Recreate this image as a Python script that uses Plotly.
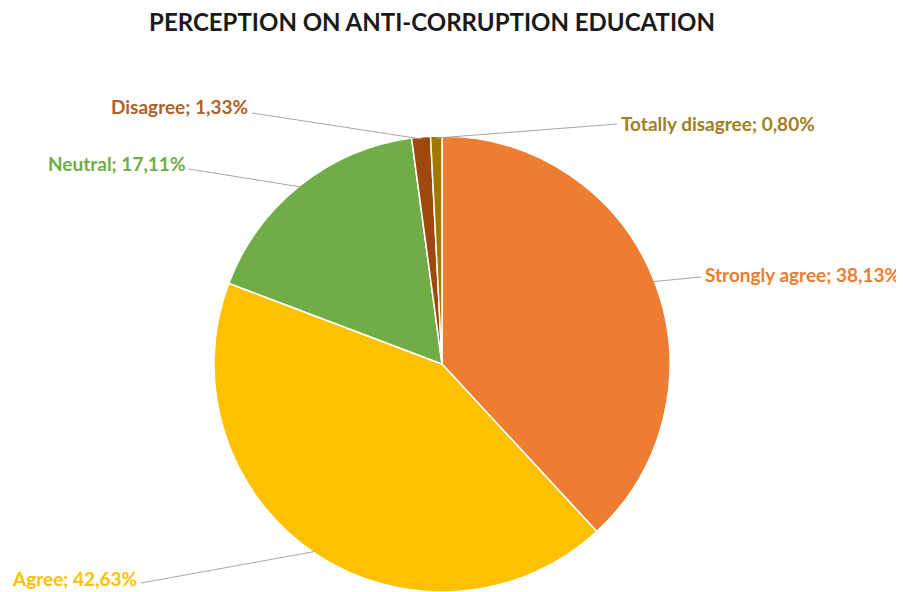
import math
import plotly.graph_objects as go

labels = ["Strongly agree", "Agree", "Neutral", "Disagree", "Totally disagree"]
values = [38.13, 42.63, 17.11, 1.33, 0.80]
colors = ["#ED7D31", "#FFC000", "#70AD47", "#9E480E", "#A07800"]
text_colors = ["#ED7D31", "#FFC000", "#70AD47", "#B0602A", "#A08020"]

OFF = 8                      # page body margin
W, H = 904, 592
CX, CY, R = 442, 364, 228    # pie geometry in screen pixels


def px(x):
    return (x - OFF) / W


def py(y):
    return 1 - (y - OFF) / H


# label end points (screen pixels) and anchors - layout only
label_pos = [
    (701, 277, "left"),
    (141, 583, "right"),
    (189, 169, "right"),
    (252, 113, "right"),
    (617, 124, "left"),
]
label_y = [274, 578, 163, 107, 123]

fig = go.Figure(go.Pie(
    labels=labels, values=values, sort=False, direction="clockwise", rotation=0,
    marker=dict(colors=colors, line=dict(color="white", width=1.5)),
    textinfo="none", showlegend=False,
    domain=dict(x=[px(CX - R), px(CX + R)], y=[py(CY + R), py(CY - R)]),
))

total = sum(values)
cum = 0.0
shapes, annotations = [], []
for lab, val, tc, (lx, ly, anc), ty in zip(labels, values, text_colors, label_pos, label_y):
    mid = (cum + val / 2) / total * 2 * math.pi
    cum += val
    ex = CX + (R - 2) * math.sin(mid)
    ey = CY - (R - 2) * math.cos(mid)
    shapes.append(dict(type="line", xref="paper", yref="paper",
                       x0=px(ex), y0=py(ey), x1=px(lx), y1=py(ly),
                       line=dict(color="#A6A6A6", width=1)))
    txt = f"{lab}; {val:.2f}%".replace(".", ",")
    tx = lx + (2 if anc == "left" else -2)
    annotations.append(dict(x=px(tx), y=py(ty), xref="paper", yref="paper",
                            text=f"<b>{txt}</b>", showarrow=False,
                            xanchor=anc, yanchor="middle",
                            font=dict(family="Lato, Open Sans, sans-serif", size=19, color=tc)))

fig.update_layout(
    width=W, height=H, margin=dict(l=0, r=0, t=0, b=0),
    paper_bgcolor="white", plot_bgcolor="white",
    title=dict(text="<b>PERCEPTION ON ANTI-CORRUPTION EDUCATION</b>",
               x=px(432), xanchor="center", y=py(23), yanchor="middle",
               font=dict(family="Lato, Open Sans, sans-serif", size=24, color="#1a1a1a")),
    shapes=shapes, annotations=annotations,
)

fig.write_html("out.html")
